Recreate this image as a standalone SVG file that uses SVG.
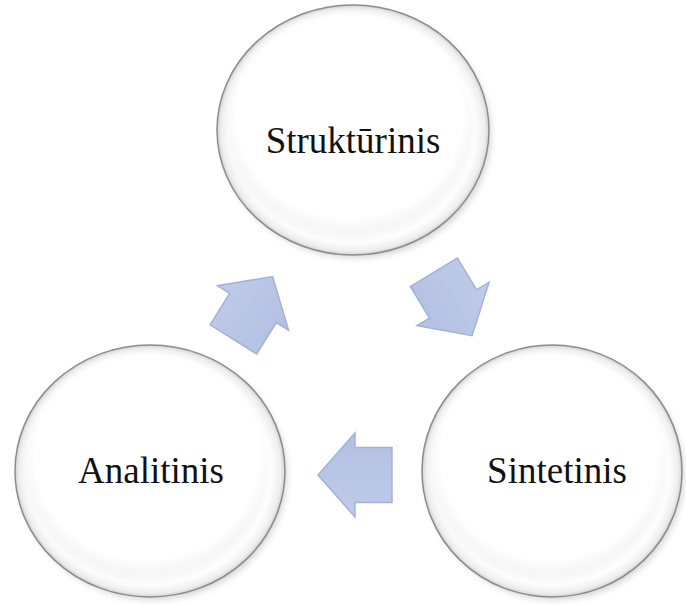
<svg xmlns="http://www.w3.org/2000/svg" width="686" height="606" viewBox="0 0 686 606">
  <defs>
    <radialGradient id="disc" cx="0.5" cy="0.5" r="0.5">
      <stop offset="0" stop-color="#ffffff"/>
      <stop offset="0.9" stop-color="#fefefe"/>
      <stop offset="0.97" stop-color="#eeeeee"/>
      <stop offset="1" stop-color="#d2d2d2"/>
    </radialGradient>
    <radialGradient id="inner" cx="0.5" cy="0.45" r="0.5">
      <stop offset="0" stop-color="#ffffff"/>
      <stop offset="0.92" stop-color="#ffffff"/>
      <stop offset="1" stop-color="#f7f7f7"/>
    </radialGradient>
    <linearGradient id="arrowFill" x1="0" y1="0" x2="0" y2="1">
      <stop offset="0" stop-color="#c0cbe9"/>
      <stop offset="1" stop-color="#b3c0e2"/>
    </linearGradient>
    <filter id="soft" x="-10%" y="-10%" width="120%" height="120%">
      <feGaussianBlur stdDeviation="2.5"/>
    </filter>
    <filter id="shadow" x="-10%" y="-10%" width="125%" height="125%">
      <feGaussianBlur stdDeviation="3"/>
    </filter>
    <path id="blockArrow" d="M -37,-27.5 L 0,-27.5 L 0,-42 L 37,0 L 0,42 L 0,27.5 L -37,27.5 Z"/>
  </defs>
  <style>
    .outer { fill: url(#disc); stroke: #8c8c8c; stroke-width: 1.5; }
    .shadow { fill: #9a9a9a; opacity: 0.4; filter: url(#shadow); }
    .inner { fill: url(#inner); filter: url(#soft); }
    .label { font-family: "Liberation Serif", "Times New Roman", serif; font-size: 37px; fill: #111111; text-anchor: middle; }
    .arrow { fill: url(#arrowFill); stroke: #a3b2d8; stroke-width: 1.5; stroke-linejoin: miter; }
  </style>
  <rect width="686" height="606" fill="#ffffff"/>

  <g id="connectors">
    <use href="#blockArrow" class="arrow" transform="translate(253,308) rotate(-58)"/>
    <use href="#blockArrow" class="arrow" transform="translate(453,304) rotate(59)"/>
    <use href="#blockArrow" class="arrow" transform="translate(355,475) rotate(180)"/>
  </g>

  <g id="node-strukturinis">
    <ellipse class="shadow" cx="356" cy="134" rx="135" ry="124"/>
    <ellipse class="outer" cx="353" cy="130" rx="136" ry="125"/>
    <ellipse class="inner" cx="350" cy="126" rx="123" ry="113"/>
    <text class="label" x="353" y="153">Struktūrinis</text>
  </g>

  <g id="node-analitinis">
    <ellipse class="shadow" cx="153" cy="475" rx="134" ry="125"/>
    <ellipse class="outer" cx="150" cy="471" rx="135" ry="126"/>
    <ellipse class="inner" cx="147" cy="467" rx="122" ry="114"/>
    <text class="label" x="151" y="483">Analitinis</text>
  </g>

  <g id="node-sintetinis">
    <ellipse class="shadow" cx="555" cy="475" rx="129" ry="125"/>
    <ellipse class="outer" cx="552" cy="471" rx="130" ry="126"/>
    <ellipse class="inner" cx="549" cy="467" rx="118" ry="114"/>
    <text class="label" x="557" y="483">Sintetinis</text>
  </g>
</svg>
